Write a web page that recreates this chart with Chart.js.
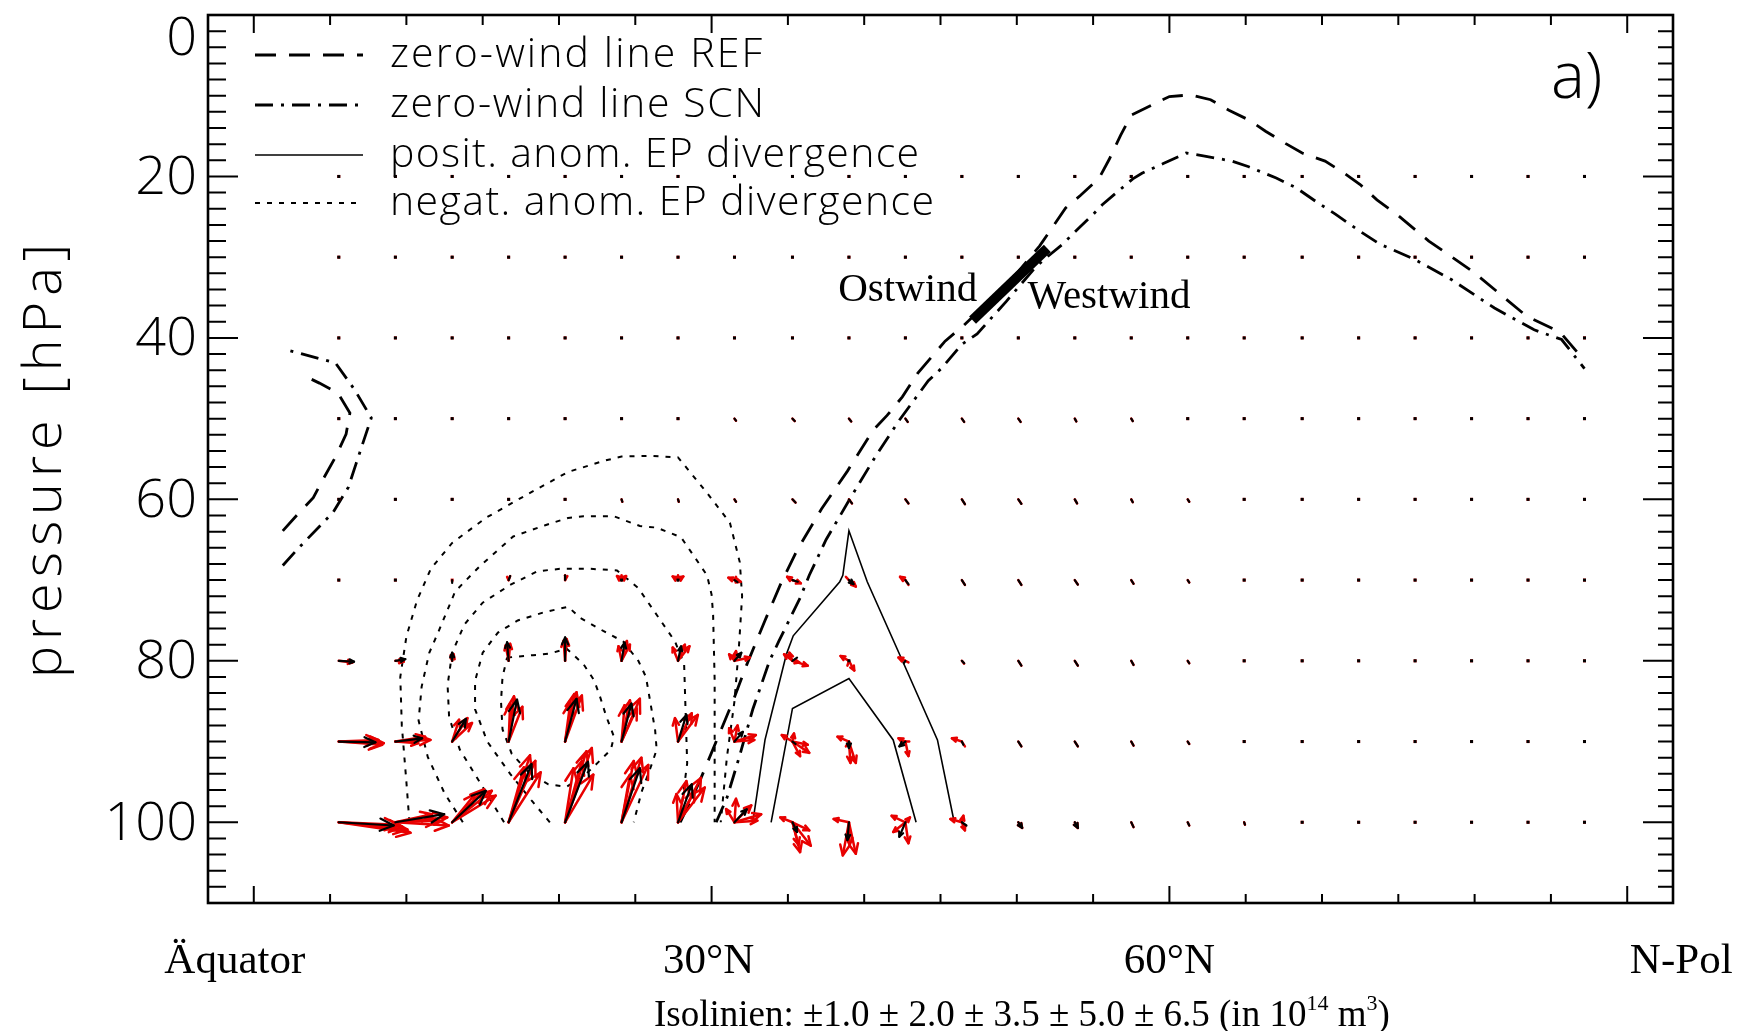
<!DOCTYPE html>
<html><head><meta charset="utf-8">
<script src="https://cdn.jsdelivr.net/npm/chart.js@4.4.1/dist/chart.umd.min.js"></script>
<style>html,body{margin:0;padding:0;background:#fff;}canvas{display:block;}</style>
</head><body>
<canvas id="c" width="1737" height="1031" style="width:1737px;height:1031px"></canvas>
<script>
// ---------------- DATA ----------------
const lats = [5.57, 9.28, 13.0, 16.7, 20.4, 24.1, 27.8, 31.5, 35.3, 39.0, 42.7, 46.4, 50.1, 53.8, 57.5, 61.2, 64.9, 68.7, 72.4, 76.1, 79.8, 83.5, 87.2];
const levels = [20, 30, 40, 50, 60, 70, 80, 90, 100];

const yTickValues = [0, 20, 40, 60, 80, 100];
const yTickLabels = ['0', '20', '40', '60', '80', '100'];
const xTickValues = [0, 30, 60, 90];
const xTickLabels = ['Äquator', '30°N', '60°N', 'N-Pol'];
const legendLabels = ['zero-wind line REF', 'zero-wind line SCN', 'posit. anom. EP divergence', 'negat. anom. EP divergence'];

// zero-wind lines (lat, pressure)
const refLat = [27.95,29.2,30.3,31.4,32.3,33.5,34.5,35.6,37.2,38.9,40.6,41.5,42.5,43.5,45.3,46.5,48.0,50.0,51.5,52.3,53.2,54.2,55.4,56.05,56.8,57.5,58.8,60.0,61.4,62.7,63.9,65.2,66.3,67.6,68.7,70.2,71.3,72.5,73.6,74.9,77.0,79.9,83.4,85.6,87.2];
const refP   = [100,95,90,85,80.5,75,70.6,66.3,61.2,56.5,51.4,49.6,47.3,44.4,40.4,38.5,35.8,32.0,28.6,26.4,23.9,22.3,20.2,17.9,14.9,12.4,11.2,10.1,9.9,10.5,11.8,13.0,14.4,15.9,17.1,18.1,19.4,21.0,22.9,24.7,28.0,31.8,37.3,39.3,42.8];
const scnLat = [30.3,31.0,31.8,32.7,33.8,34.4,35.8,36.4,37.5,39.2,40.8,42.3,44.2,45.1,46.4,47.4,49.3,51.2,51.9,53.0,54.0,55.0,55.6,56.6,57.6,58.2,59.6,61.1,62.4,64.1,65.2,67.0,68.3,69.6,70.9,72.5,73.8,76.0,78.5,81.3,83.9,85.7,87.2];
const scnP   = [100,97,92,86,80,77.6,72.2,69.4,65,59.5,54.5,50.2,45.3,43.7,40.8,39.5,35.5,31.3,30.1,28.4,26.5,24.7,23.5,21.9,20.3,19.6,18.4,17.1,17.5,18.1,18.8,20.2,21.4,23.1,24.7,26.8,28.4,30.2,32.8,36.3,39.0,40.2,43.8];
const ref2Lat = [1.9,2.9,3.9,4.6,5.4,6.05,6.3,5.5,4.3,3.1];
const ref2P   = [63.9,61.8,59.8,57.3,54.6,51.9,49.3,46.8,45.6,44.5];
const scn2Lat = [1.9,2.9,5.2,6.2,6.7,7.7,6.6,5.35,2.0];
const scn2P   = [68.2,66.1,61.6,58.5,55.6,49.9,46.4,43.1,41.4];

// marker of the REF zero-wind line (Ostwind / Westwind)
const barLat = [47.1, 52.0];
const barP   = [37.8, 28.9];

// negative EP-divergence anomaly isolines (dotted)
const neg1Lat = [10.2,10.0,9.7,9.6,10.0,10.7,11.6,13.0,15.2,18.0,20.6,23.0,24.1,26.0,27.8,29.7,31.2,31.85,32.0,31.8,31.5,31.0,30.6];
const neg1P   = [100,95,88,82,77,72.5,68.6,65.4,62.3,59.3,56.6,55.2,54.7,54.6,54.8,59.2,62.9,67.8,72,78,85,92,100];
const neg2Lat = [13.7,12.5,11.4,10.8,11.0,11.5,12.1,13.2,14.8,17.0,19.1,20.6,21.6,23.6,25.3,26.4,28.0,29.7,30.0,30.1,30.2,30.2];
const neg2P   = [100,96.4,91.9,87.4,83.2,79,76.4,71.4,68.3,64.6,63.2,62.3,62.1,62.1,63.3,63.5,64.7,69.4,71.8,74.3,82.4,100];
const neg3Lat = [16.4,14.8,13.5,12.8,12.7,13.0,13.8,15.0,16.8,18.6,20.1,22.0,23.8,25.2,26.4,27.6,28.2,28.3,28.4,27.9];
const neg3P   = [100,95,91,87,83,79,75.5,72.8,70.6,68.9,68.6,68.6,68.8,71,74.3,77.6,80.4,86.5,92.7,100];
const neg4Lat = [19.4,18.2,16.8,15.3,14.5,14.5,15.0,16.0,17.3,19.0,20.6,21.4,22.9,24.2,25.2,25.7,26.0,26.3,26.4,26.1,25.4,24.9];
const neg4P   = [100,97.3,94,90,86,82.5,79.0,76.5,75.0,74.0,73.3,74.7,76.3,77.6,80,82,85.3,88.6,91,92.7,96.3,100];
const neg5Lat = [16.6,18.3,19.4,20.5,21.6,22.3,22.7,23.1,23.6,23.4,22.5,21.6,20.5,19.3,18.0,16.9,16.3,16.2,16.3,16.6];
const neg5P   = [79.6,79.3,79.1,78.5,80.4,82.4,84.5,86.9,89.4,91.0,92.7,94.3,95.6,95.3,93.8,91.5,88.5,85,82,79.6];
// positive EP-divergence anomaly isolines (solid)
const pos1Lat = [32.7,33.5,34.9,35.35,38.4,38.6,39.0,40.2,42.6,44.8,45.9];
const pos1P   = [100,89.8,79.2,76.9,70.2,69.4,63.9,70.2,80.4,89.8,100];
const pos2Lat = [33.9,35.3,39.0,41.9,43.4];
const pos2P   = [100,85.9,82.2,89.8,100];

// EP-flux vectors REF (black), one [dLat, dP] per latitude for each level
const black20 = [[0,0.1],[0,0.1],[0,0.1],[0,0.1],[0,0.1],[0,0.1],[0,0.1],[0,0.1],[0,0.1],[0,0.1],[0,0.1],[0,0.1],[0,0.1],[0,0.1],[0,0.1],[0,0.1],[0,0.1],[0,0.1],[0,0.1],[0,0.1],[0,0.1],[0,0.1],[0,0.1]];
const black30 = [[0,0.1],[0,0.1],[0,0.1],[0,0.1],[0,0.1],[0,0.1],[0,0.1],[0,0.1],[0,0.1],[0,0.1],[0,0.1],[0,0.15],[0,0.15],[0,0.1],[0,0.1],[0,0.1],[0,0.1],[0,0.1],[0,0.1],[0,0.1],[0,0.1],[0,0.1],[0,0.1]];
const black40 = [[0,0.1],[0,0.1],[0,0.1],[0,0.1],[0,0.1],[0,0.1],[0,0.1],[0,0.15],[0.05,0.2],[0.05,0.2],[0.05,0.25],[0.05,0.25],[0.05,0.25],[0.05,0.2],[0,0.15],[0,0.15],[0,0.1],[0,0.1],[0,0.1],[0,0.1],[0,0.1],[0,0.1],[0,0.1]];
const black50 = [[0,0.1],[0,0.1],[0,0.15],[0,0.15],[0,0.2],[0,0.2],[0.05,0.2],[0.1,0.25],[0.15,0.3],[0.15,0.35],[0.15,0.4],[0.15,0.4],[0.15,0.4],[0.1,0.35],[0.1,0.3],[0.05,0.2],[0.05,0.15],[0,0.1],[0,0.1],[0,0.1],[0,0.1],[0,0.1],[0,0.1]];
const black60 = [[0,0.2],[0,0.1],[0,0.1],[0,0.15],[0,0.2],[0.05,0.3],[0.05,0.3],[0.1,0.3],[0.2,0.4],[0.2,0.5],[0.2,0.5],[0.2,0.6],[0.2,0.55],[0.15,0.5],[0.1,0.35],[0.1,0.3],[0.05,0.2],[0.05,0.15],[0,0.1],[0,0.1],[0,0.1],[0,0.1],[0,0.1]];
const black70 = [[0.15,0],[0.1,0],[0,0.35],[0.1,-0.5],[0,-0.6],[0,0.3],[0.05,0.2],[0.2,0.25],[0.35,0.2],[0.3,0.5],[0.2,0.5],[0.2,0.6],[0.2,0.6],[0.2,0.55],[0.15,0.45],[0.1,0.3],[0.05,0.2],[0.05,0.2],[0,0.15],[0,0.1],[0,0.1],[0,0.1],[0,0.1]];
const black80 = [[1.0,0.1],[0.65,-0.2],[0,-1.0],[-0.1,-2.3],[0,-2.9],[0.2,-2.25],[0.2,-1.8],[0.45,-1.0],[0.3,-0.4],[0.1,0.2],[-0.1,0.3],[0.15,0.3],[0.2,0.6],[0.2,0.6],[0.15,0.5],[0.1,0.3],[0.05,0.25],[0.05,0.2],[0,0.15],[0,0.1],[0,0.1],[0,0.1],[0,0.1]];
const black90 = [[2.4,0.1],[1.75,-0.4],[0.9,-2.8],[0.55,-5.2],[0.75,-5.3],[0.65,-4.7],[0.55,-3.3],[0.55,-1.2],[0.2,0.3],[0,0.8],[-0.4,0.6],[0.1,0.4],[0.2,0.6],[0.2,0.6],[0.15,0.5],[0.1,0.3],[0.05,0.25],[0.05,0.2],[0,0.15],[0,0.1],[0,0.1],[0,0.1],[0,0.1]];
const black100 = [[3.6,0.4],[3.2,-1.0],[2.2,-3.9],[1.5,-7.2],[1.5,-7.5],[1.2,-6.7],[0.9,-4.7],[0.8,-1.6],[0.3,1.2],[-0.1,2.2],[-0.4,1.8],[0.3,0.4],[0.25,0.7],[0.2,0.7],[0.15,0.6],[0.1,0.4],[0.05,0.3],[0.05,0.2],[0,0.2],[0,0.1],[0,0.1],[0,0.1],[0,0.1]];

// EP-flux vectors SCN members (red), listed for the first latitudes of the lower levels
const red70 = [[[0.1,0]],[[0.1,0]],[[0,0.3]],[[0.1,-0.5],[-0.1,-0.4]],[[0,-0.6],[0.15,-0.5]],[[-0.3,-0.5],[0.3,-0.5],[0,-0.6]],[[-0.35,-0.45],[0.35,-0.45],[0,-0.6]],[[-0.4,-0.3],[0.4,0.2],[0.1,-0.4]],[[-0.35,-0.4],[0.55,0.4]],[[-0.2,-0.4],[0.45,0.8]],[[-0.35,-0.4],[0.2,0.6]],[[0.2,0.6]]];
const red80 = [[[0.9,0.2]],[[0.55,0.1]],[[0.1,-0.8],[-0.1,-0.7]],[[0.1,-2.1],[-0.2,-1.9]],[[0.1,-2.7],[-0.1,-2.5]],[[0.55,-2.0],[-0.2,-1.8],[0.35,-2.45]],[[0.75,-1.8],[-0.35,-1.65],[0.45,-2.0]],[[1.0,-0.4],[-0.35,-0.8],[0.1,-1.2]],[[-0.55,-0.8],[1.0,0.6],[0.45,0.2],[-0.2,-1.0]],[[-0.55,-0.6],[0.35,1.2],[-0.1,0.6]],[[-0.45,-0.4],[0.2,0.2]],[[0.15,0.35]]];
const red90 = [[[2.95,0.2],[2.6,-0.2],[2.85,0.4]],[[2.3,-0.2],[1.95,-0.6],[1.5,0.2]],[[1.3,-2.3],[0.45,-2.7],[1.0,-2.9]],[[0.35,-5.6],[0.9,-4.3],[0.1,-4.75]],[[0.75,-6.1],[1.1,-5.7],[0.35,-4.9],[0.6,-5.9]],[[1.2,-5.3],[1.0,-4.1],[0.2,-4.5],[0.55,-5.1]],[[1.3,-3.3],[-0.2,-2.9],[0.9,-3.5]],[[1.4,-0.8],[-0.35,-1.65],[0.2,-2.0],[1.3,-0.2]],[[-0.7,-0.8],[1.0,0.4],[0.5,1.8],[0.1,-1.0],[1.1,1.4]],[[-0.75,-0.6],[0.1,2.65],[0.45,2.65],[-0.2,0.6]],[[0.2,1.8],[-0.45,-0.4],[0.25,0.0]],[[0.2,0.6],[-0.65,-0.4]]];
const red100 = [[[4.5,0.9],[4.2,0.6],[3.9,0.3],[4.7,1.3]],[[3.4,-0.6],[2.85,-0.2],[3.5,0.4],[2.4,-1.0]],[[2.85,-3.3],[2.1,-4.1],[1.5,-3.5],[2.6,-3.9]],[[1.4,-8.3],[2.1,-6.2],[1.0,-6.8],[1.75,-7.6]],[[1.75,-9.2],[1.1,-7.6],[1.85,-5.9],[0.55,-6.7],[1.4,-8.8]],[[1.3,-8.0],[1.75,-7.1],[0.8,-7.6],[0.55,-5.9]],[[1.5,-5.5],[1.75,-4.3],[-0.1,-3.5],[0.55,-5.1],[1.1,-3.9]],[[0.1,-2.9],[1.1,-2.1],[1.75,-1.0],[-0.55,-1.65],[1.5,-0.2]],[[-0.8,-0.6],[1.1,1.0],[0.5,3.7],[1.2,2.9],[0.4,2.8]],[[-0.4,4.1],[0.45,3.9],[0.05,2.8],[-1.0,-0.4]],[[-0.9,-0.8],[0.2,2.6],[-0.8,1.2],[0.3,-0.6]],[[-0.75,-0.4],[0.2,1.0],[0.1,-0.8]]];

const blackRows = [black20, black30, black40, black50, black60, black70, black80, black90, black100];
const redRows   = [null, null, null, null, null, red70, red80, red90, red100];

// ---------------- STYLES ----------------
const SANS = '"Open Sans", "Liberation Sans", Arial, sans-serif';
const SERIF = '"Liberation Serif", "Times New Roman", serif';
const RED = 'rgb(232,0,0)';
const DASH_REF = [21, 13];
const DASH_SCN = [18, 8, 3, 8];
const DASH_NEG = [5, 7];

function pts(la, pr) { return la.map((v, i) => ({ x: v, y: pr[i] })); }
function lineDS(la, pr, dash, width) {
  return { data: pts(la, pr), showLine: true, borderColor: '#000', borderWidth: width, borderDash: dash,
           pointRadius: 0, fill: false, tension: 0, borderCapStyle: 'butt', borderJoinStyle: 'miter' };
}

const datasets = [
  lineDS(neg1Lat, neg1P, DASH_NEG, 2), lineDS(neg2Lat, neg2P, DASH_NEG, 2), lineDS(neg3Lat, neg3P, DASH_NEG, 2),
  lineDS(neg4Lat, neg4P, DASH_NEG, 2), lineDS(neg5Lat, neg5P, DASH_NEG, 2),
  lineDS(pos1Lat, pos1P, [], 1.6), lineDS(pos2Lat, pos2P, [], 1.6),
  lineDS(refLat, refP, DASH_REF, 2.8), lineDS(scnLat, scnP, DASH_SCN, 2.8),
  lineDS(ref2Lat, ref2P, DASH_REF, 2.8), lineDS(scn2Lat, scn2P, DASH_SCN, 2.8),
  lineDS(barLat, barP, [], 10)
];

// ---------------- HELPERS ----------------
function arrow(ctx, x0, y0, x1, y1, color, lw) {
  const dx = x1 - x0, dy = y1 - y0, L = Math.hypot(dx, dy);
  ctx.strokeStyle = color; ctx.fillStyle = color; ctx.lineWidth = lw;
  ctx.setLineDash([]);
  if (L < 2.5) { ctx.fillRect(x0 - 1.5, y0 - 1.5, 3, 3); return; }
  ctx.beginPath(); ctx.moveTo(x0, y0); ctx.lineTo(x1, y1); ctx.stroke();
  if (L >= 6) {
    const h = Math.min(15, Math.max(5, 0.33 * L)), a = Math.atan2(dy, dx), t = 0.42;
    ctx.beginPath();
    ctx.moveTo(x1 - h * Math.cos(a - t), y1 - h * Math.sin(a - t));
    ctx.lineTo(x1, y1);
    ctx.lineTo(x1 - h * Math.cos(a + t), y1 - h * Math.sin(a + t));
    ctx.stroke();
  }
}
function spacedText(ctx, text, x, y, targetW) {
  ctx.textAlign = 'left';
  const hasLS = ('letterSpacing' in ctx);
  if (hasLS) ctx.letterSpacing = '0px';
  const w0 = ctx.measureText(text).width;
  if (hasLS && targetW > w0) {
    ctx.letterSpacing = ((targetW - w0) / Math.max(1, text.length - 1)) + 'px';
    ctx.fillText(text, x, y);
    ctx.letterSpacing = '0px';
  } else {
    ctx.save(); ctx.translate(x, y); ctx.scale(targetW / w0, 1); ctx.fillText(text, 0, 0); ctx.restore();
  }
}

// ---------------- PLUGINS ----------------
const arrowPlugin = {
  id: 'epArrows',
  afterDatasetsDraw(chart) {
    const { ctx, scales: { x, y } } = chart;
    ctx.save();
    ctx.lineCap = 'round'; ctx.lineJoin = 'round';
    for (let pass = 0; pass < 2; pass++) {
      levels.forEach((lev, r) => {
        const blk = blackRows[r], rd = redRows[r];
        lats.forEach((la, i) => {
          const x0 = x.getPixelForValue(la), y0 = y.getPixelForValue(lev);
          if (pass === 0) {
            const list = (rd && rd[i]) ? rd[i] : [blk[i]];
            list.forEach(v => arrow(ctx, x0, y0, x.getPixelForValue(la + v[0]), y.getPixelForValue(lev + v[1]), RED, 2.5));
          } else {
            const v = blk[i];
            arrow(ctx, x0, y0, x.getPixelForValue(la + v[0]), y.getPixelForValue(lev + v[1]), '#000', 2.2);
          }
        });
      });
    }
    ctx.restore();
  }
};

const framePlugin = {
  id: 'idlFrame',
  afterDraw(chart) {
    const { ctx, chartArea: a, scales: { x, y } } = chart;
    ctx.save();
    ctx.setLineDash([]);
    ctx.strokeStyle = '#000'; ctx.fillStyle = '#000';
    // ticks
    ctx.lineWidth = 2;
    ctx.beginPath();
    for (let k = 0; k <= 55; k++) {
      const v = k * 2, py = y.getPixelForValue(v), len = (v % 20 === 0) ? 30 : 18, lenR = (v % 20 === 0) ? 30 : 15;
      ctx.moveTo(a.left, py); ctx.lineTo(a.left + len, py);
      ctx.moveTo(a.right, py); ctx.lineTo(a.right - lenR, py);
    }
    for (let k = 0; k <= 18; k++) {
      const v = k * 5, pxx = x.getPixelForValue(v), len = (v % 30 === 0) ? 17 : 9, lenT = (v % 30 === 0) ? 18 : 10;
      ctx.moveTo(pxx, a.bottom); ctx.lineTo(pxx, a.bottom - len);
      ctx.moveTo(pxx, a.top); ctx.lineTo(pxx, a.top + lenT);
    }
    ctx.stroke();
    // box
    ctx.lineWidth = 2.6;
    ctx.strokeRect(a.left, a.top, a.right - a.left, a.bottom - a.top);

    // y tick labels
    ctx.font = '300 54px ' + SANS;
    ctx.textAlign = 'right'; ctx.textBaseline = 'middle';
    yTickValues.forEach((v, i) => {
      const py = Math.max(y.getPixelForValue(v) + 2, a.top + 25);
      ctx.fillText(yTickLabels[i], a.left - 11, py);
    });
    // y title
    ctx.save();
    ctx.translate(46, 461); ctx.rotate(-Math.PI / 2);
    ctx.font = '300 54px ' + SANS; ctx.textBaseline = 'middle';
    spacedText(ctx, 'pressure [hPa]', -217, 0, 434);
    ctx.restore();

    // x labels (serif)
    ctx.font = '43px ' + SERIF; ctx.textAlign = 'center'; ctx.textBaseline = 'middle';
    const xOff = [-19, -3, 0, 54];
    xTickValues.forEach((v, i) => ctx.fillText(xTickLabels[i], x.getPixelForValue(v) + xOff[i], 962));

    // isolines note
    ctx.textAlign = 'left'; ctx.textBaseline = 'alphabetic';
    let cx = 654; const by = 1026;
    const seg = (t, f, dy) => { ctx.font = f; ctx.fillText(t, cx, by + dy); cx += ctx.measureText(t).width; };
    seg('Isolinien: ±1.0 ± 2.0 ± 3.5 ± 5.0 ± 6.5 (in 10', '37px ' + SERIF, 0);
    seg('14', '22px ' + SERIF, -16);
    seg(' m', '37px ' + SERIF, 0);
    seg('3', '22px ' + SERIF, -16);
    seg(')', '37px ' + SERIF, 0);

    // Ostwind / Westwind
    ctx.font = '41px ' + SERIF; ctx.textBaseline = 'middle';
    ctx.textAlign = 'right'; ctx.fillText('Ostwind', x.getPixelForValue(47.4), y.getPixelForValue(34.1));
    ctx.textAlign = 'left'; ctx.fillText('Westwind', x.getPixelForValue(50.7), y.getPixelForValue(34.9));

    // panel label
    ctx.font = '300 64px ' + SANS; ctx.textAlign = 'left'; ctx.textBaseline = 'middle';
    ctx.fillText('a)', 1551, 80);

    // legend
    const legY = [55, 105, 155, 203];
    const legDash = [DASH_REF, DASH_SCN, [], DASH_NEG];
    const legW = [2.8, 2.8, 1.6, 2];
    const legTW = [372, 374, 529, 544];
    legendLabels.forEach((t, i) => {
      ctx.setLineDash(legDash[i]); ctx.lineWidth = legW[i]; ctx.lineCap = 'butt';
      ctx.beginPath(); ctx.moveTo(255, legY[i]); ctx.lineTo(363, legY[i]); ctx.stroke();
      ctx.setLineDash([]);
      ctx.font = '300 41px ' + SANS; ctx.textBaseline = 'middle';
      spacedText(ctx, t, 390, legY[i], legTW[i]);
    });
    ctx.restore();
  }
};

new Chart(document.getElementById('c').getContext('2d'), {
  type: 'scatter',
  data: { datasets },
  options: {
    responsive: false, animation: false, devicePixelRatio: 1, events: [],
    layout: { padding: { left: 208, right: 64, top: 15, bottom: 128 } },
    plugins: { legend: { display: false }, tooltip: { enabled: false } },
    scales: {
      x: { type: 'linear', min: -3, max: 93, display: false },
      y: { type: 'linear', min: 0, max: 110, reverse: true, display: false }
    }
  },
  plugins: [arrowPlugin, framePlugin]
});
</script>
</body></html>
